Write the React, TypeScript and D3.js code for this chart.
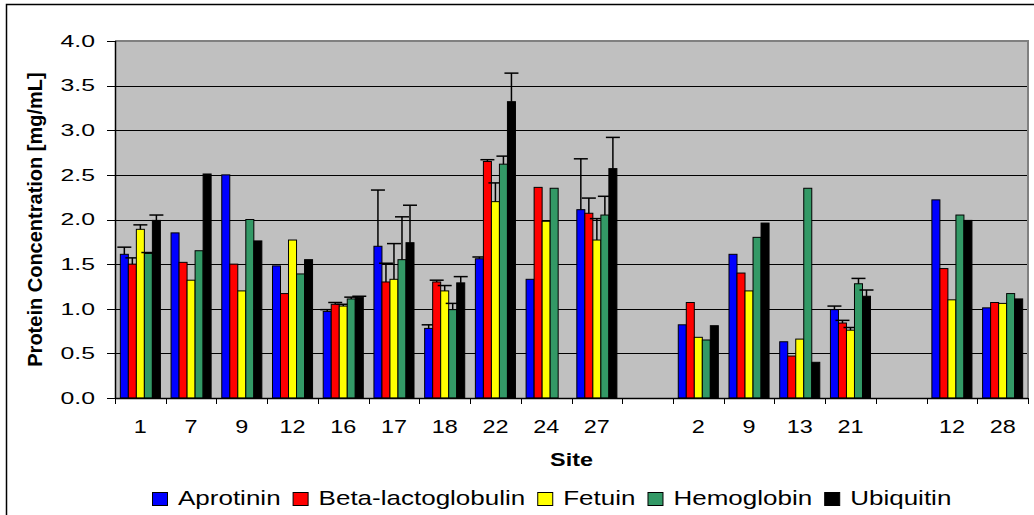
import React, { useEffect, useRef } from 'react';
import * as d3 from 'd3';

// site labels, empty strings are the gaps between site groups
const siteLabels = ['1', '7', '9', '12', '16', '17', '18', '22', '24', '27', '', '2', '9', '13', '21', '', '12', '28'];

const seriesNames = ['Aprotinin', 'Beta-lactoglobulin', 'Fetuin', 'Hemoglobin', 'Ubiquitin'];
const seriesColors = ['#0000FF', '#FF0000', '#FFFF00', '#339966', '#000000'];

const aprotinin = [1.61, 1.85, 2.50, 1.48, 0.97, 1.70, 0.78, 1.56, 1.33, 2.11, null, 0.82, 1.61, 0.63, 0.99, null, 2.22, 1.01];
const betaLactoglobulin = [1.50, 1.52, 1.50, 1.17, 1.05, 1.30, 1.30, 2.65, 2.36, 2.07, null, 1.07, 1.40, 0.47, 0.84, null, 1.45, 1.07];
const fetuin = [1.89, 1.32, 1.20, 1.77, 1.03, 1.33, 1.20, 2.20, 1.98, 1.77, null, 0.68, 1.20, 0.66, 0.76, null, 1.10, 1.06];
const hemoglobin = [1.62, 1.65, 2.00, 1.39, 1.11, 1.55, 0.99, 2.62, 2.35, 2.05, null, 0.65, 1.80, 2.35, 1.28, null, 2.05, 1.17];
const ubiquitin = [1.99, 2.51, 1.76, 1.55, 1.13, 1.74, 1.29, 3.32, null, 2.57, null, 0.81, 1.96, 0.40, 1.14, null, 1.99, 1.11];

// upper error bar sizes (0 = no bar)
const aprotininErr = [0.08, 0, 0, 0, 0.02, 0.63, 0.04, 0.02, 0, 0.57, 0, 0, 0, 0, 0.04, 0, 0, 0];
const betaErr = [0.07, 0, 0, 0, 0.02, 0.21, 0.02, 0.02, 0, 0.17, 0, 0, 0, 0, 0.03, 0, 0, 0];
const fetuinErr = [0.05, 0, 0, 0, 0.02, 0.40, 0.06, 0.21, 0, 0.24, 0, 0, 0, 0, 0.03, 0, 0, 0];
const hemoglobinErr = [0.01, 0, 0, 0, 0.02, 0.48, 0.07, 0.09, 0, 0.21, 0, 0, 0, 0, 0.06, 0, 0, 0];
const ubiquitinErr = [0.06, 0, 0, 0, 0.01, 0.42, 0.07, 0.32, 0, 0.35, 0, 0, 0, 0, 0.07, 0, 0, 0];

const yTicks = [0, 0.5, 1.0, 1.5, 2.0, 2.5, 3.0, 3.5, 4.0];

const FONT = '"Liberation Sans", Arial, sans-serif';

export default function App() {
  const svgRef = useRef<SVGSVGElement | null>(null);

  useEffect(() => {
    if (!svgRef.current) return;
    const svg = d3.select(svgRef.current);
    svg.selectAll('*').remove();

    const values = [aprotinin, betaLactoglobulin, fetuin, hemoglobin, ubiquitin];
    const errors = [aprotininErr, betaErr, fetuinErr, hemoglobinErr, ubiquitinErr];

    const left = 115, right = 1028, top = 41, bottom = 398;

    // outer chart frame
    svg.append('rect')
      .attr('x', 6.5).attr('y', 4.5)
      .attr('width', 1060).attr('height', 540)
      .attr('fill', '#fff').attr('stroke', '#000').attr('stroke-width', 1.5);

    const x0 = d3.scaleBand<number>()
      .domain(siteLabels.map((_, i) => i))
      .range([left, right])
      .paddingInner(0.21)
      .paddingOuter(0.105);

    const x1 = d3.scaleBand<number>()
      .domain(seriesNames.map((_, i) => i))
      .range([0, x0.bandwidth()]);

    const y = d3.scaleLinear().domain([0, 4]).range([bottom, top]);

    // plot area
    svg.append('rect')
      .attr('x', left).attr('y', top)
      .attr('width', right - left).attr('height', bottom - top)
      .attr('fill', '#C0C0C0');

    svg.append('g').selectAll('line')
      .data(yTicks.filter(t => t > 0 && t < 4))
      .enter().append('line')
      .attr('x1', left).attr('x2', right)
      .attr('y1', d => Math.round(y(d)) + 0.5)
      .attr('y2', d => Math.round(y(d)) + 0.5)
      .attr('stroke', '#000').attr('stroke-width', 1);

    svg.append('path')
      .attr('d', `M${left},${top} H${right} V${bottom}`)
      .attr('fill', 'none').attr('stroke', '#808080').attr('stroke-width', 2);

    // bars
    const groups = svg.append('g').selectAll('g')
      .data(seriesNames)
      .enter().append('g')
      .attr('fill', (_, s) => seriesColors[s]);

    groups.each(function (_, s) {
      const g = d3.select(this);
      const pts = values[s]
        .map((v, i) => ({ v, i, e: errors[s][i] }))
        .filter(d => d.v !== null) as { v: number; i: number; e: number }[];

      g.selectAll('rect')
        .data(pts)
        .enter().append('rect')
        .attr('x', d => x0(d.i)! + x1(s)!)
        .attr('y', d => y(d.v))
        .attr('width', x1.bandwidth())
        .attr('height', d => y(0) - y(d.v))
        .attr('stroke', '#000')
        .attr('stroke-width', 1);

      const errPts = pts.filter(d => d.e > 0);
      const cx = (d: { i: number }) => x0(d.i)! + x1(s)! + x1.bandwidth() / 2;

      g.selectAll('line.err')
        .data(errPts)
        .enter().append('line')
        .attr('class', 'err')
        .attr('x1', cx).attr('x2', cx)
        .attr('y1', d => y(d.v)).attr('y2', d => y(d.v + d.e))
        .attr('stroke', '#000').attr('stroke-width', 1.5);

      g.selectAll('line.cap')
        .data(errPts)
        .enter().append('line')
        .attr('class', 'cap')
        .attr('x1', d => cx(d) - 7).attr('x2', d => cx(d) + 7)
        .attr('y1', d => y(d.v + d.e)).attr('y2', d => y(d.v + d.e))
        .attr('stroke', '#000').attr('stroke-width', 1.5);
    });

    // axes
    svg.append('line')
      .attr('x1', left + 0.5).attr('x2', left + 0.5)
      .attr('y1', top).attr('y2', bottom)
      .attr('stroke', '#000').attr('stroke-width', 1.5);
    svg.append('line')
      .attr('x1', left).attr('x2', right)
      .attr('y1', bottom + 0.5).attr('y2', bottom + 0.5)
      .attr('stroke', '#000').attr('stroke-width', 1.5);

    svg.append('g').selectAll('line')
      .data(yTicks)
      .enter().append('line')
      .attr('x1', left - 8).attr('x2', left)
      .attr('y1', d => Math.round(y(d)) + 0.5)
      .attr('y2', d => Math.round(y(d)) + 0.5)
      .attr('stroke', '#000');

    svg.append('g').selectAll('text')
      .data(yTicks)
      .enter().append('text')
      .attr('transform', d => `translate(95,${y(d) + 5.8}) scale(1.55,1)`)
      .attr('text-anchor', 'end')
      .attr('font-family', FONT)
      .attr('font-size', 16)
      .attr('fill', '#000')
      .text(d => d.toFixed(1));

    const step = x0.step();
    svg.append('g').selectAll('line')
      .data(d3.range(siteLabels.length + 1))
      .enter().append('line')
      .attr('x1', i => Math.round(left + i * step) + 0.5)
      .attr('x2', i => Math.round(left + i * step) + 0.5)
      .attr('y1', bottom).attr('y2', bottom + 6)
      .attr('stroke', '#000');

    svg.append('g').selectAll('text')
      .data(siteLabels)
      .enter().append('text')
      .attr('transform', (_, i) => `translate(${x0(i)! + x0.bandwidth() / 2},433) scale(1.3,1)`)
      .attr('text-anchor', 'middle')
      .attr('font-family', FONT)
      .attr('font-size', 18)
      .attr('fill', '#000')
      .text(d => d);

    // axis titles
    svg.append('text')
      .attr('transform', `translate(${(left + right) / 2},466) scale(1.3,1)`)
      .attr('text-anchor', 'middle')
      .attr('font-family', FONT)
      .attr('font-size', 18)
      .attr('font-weight', 'bold')
      .text('Site');

    svg.append('text')
      .attr('transform', `translate(41.5,${(top + bottom) / 2}) rotate(-90)`)
      .attr('text-anchor', 'middle')
      .attr('font-family', FONT)
      .attr('font-size', 20)
      .attr('font-weight', 'bold')
      .text('Protein Concentration [mg/mL]');

    // legend, laid out left to right using measured text widths
    const legend = svg.append('g');
    let lx = 152;
    seriesNames.forEach((name, s) => {
      legend.append('rect')
        .attr('x', lx + 0.5).attr('y', 492.5)
        .attr('width', 15).attr('height', 13)
        .attr('fill', seriesColors[s])
        .attr('stroke', '#000').attr('stroke-width', 1);
      const t = legend.append('text')
        .attr('transform', `translate(${lx + 26},505) scale(1.3,1)`)
        .attr('font-family', FONT)
        .attr('font-size', 20)
        .attr('fill', '#000')
        .text(name);
      const w = (t.node() as SVGTextElement).getComputedTextLength() * 1.3;
      lx += 26 + w + 12;
    });
  }, []);

  return (
    <svg
      ref={svgRef}
      width={1034}
      height={515}
      style={{ position: 'absolute', left: 0, top: 0, background: '#fff' }}
    />
  );
}
